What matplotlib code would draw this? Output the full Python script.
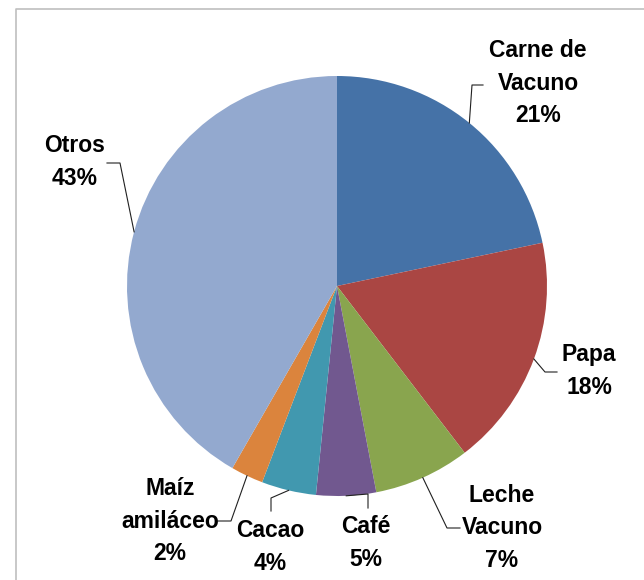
import matplotlib.pyplot as plt
import numpy as np

# Datos (participación en %)
categorias = ['Carne de\nVacuno', 'Papa', 'Leche\nVacuno', 'Café', 'Cacao', 'Maíz\namiláceo', 'Otros']
valores = [21.7, 17.9, 7.4, 4.6, 4.2, 2.5, 41.7]
porcentajes = ['21%', '18%', '7%', '5%', '4%', '2%', '43%']
colores = ['#4572A7', '#AA4643', '#89A54E', '#71588F', '#4198AF', '#DB843D', '#93A9CF']

W, H = 644, 580
cx, cy, radio = 337, H - 286, 210

# posiciones de etiquetas y líneas guía (en píxeles desde arriba)
pos_texto = [(538, 83), (589, 371), (502, 528), (366, 543), (270, 547), (170, 521), (75, 162)]
codos = [(472, 85), (545, 372), (447, 528), (368, 494), (271, 498), (231, 521), (120, 163)]
finales = [(483, 85), (557, 372), (460, 528), (368, 508), (271, 511), (218, 521), (107, 163)]

plt.rcParams['font.family'] = ['Liberation Sans', 'DejaVu Sans']

fig = plt.figure(figsize=(W / 100, H / 100), dpi=100)
ax = fig.add_axes([0, 0, 1, 1])

wedges, _ = ax.pie(valores, colors=colores, startangle=90, counterclock=False,
                   center=(cx, cy), radius=radio, wedgeprops=dict(linewidth=0))
ax.set_xlim(0, W)
ax.set_ylim(0, H)
ax.set_aspect('equal')
ax.axis('off')

for w, cat, pct, (tx, ty), (ex, ey), (fx, fy) in zip(wedges, categorias, porcentajes,
                                                     pos_texto, codos, finales):
    ang = np.deg2rad((w.theta1 + w.theta2) / 2)
    ax0 = cx + radio * np.cos(ang)
    ay0 = cy + radio * np.sin(ang)
    ax.plot([ax0, ex, fx], [ay0, H - ey, H - fy], color='#202020', lw=0.8)
    ax.text(tx, H - ty, cat + '\n' + pct, ha='center', va='center',
            fontsize=16.5, fontweight='bold', linespacing=1.55)

# borde del área del gráfico
ax.plot([16, 16, W + 10], [-10, H - 9, H - 9], color='#BFBFBF', lw=1.2, clip_on=False)

plt.savefig('out.png', dpi=100)
